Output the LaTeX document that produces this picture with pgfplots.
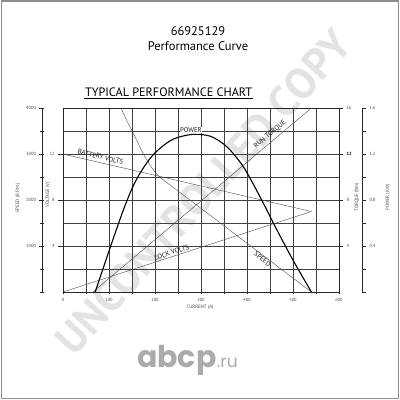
\documentclass[border=0pt]{standalone}
\usepackage{fontspec}
\setmainfont{PT Sans}
\newfontfamily\abcpfont{Poppins}
\usepackage{pgfplots}
\pgfplotsset{compat=1.18}

\pgfplotsset{
  every axis/.append style={
    scale only axis,
    /pgf/number format/assume math mode=true,
    /pgf/number format/1000 sep={},
    tick label style={font=\fontsize{4.5}{5}\selectfont, text=black!70},
    axis line style={black!85, line width=0.5pt},
    tick style={black!85, line width=0.5pt},
  },
  mainbox/.style={at={(63pt,108pt)}, anchor=south west, width=276pt, height=184pt, xmin=0, xmax=600},
  thin curve/.style={black!70, line width=0.4pt},
}

\begin{document}
\begin{tikzpicture}[x=1pt,y=1pt]
\useasboundingbox (0pt,0pt) rectangle (400pt,400pt);
\fill[white] (0pt,0pt) rectangle (400pt,400pt);

% watermark
\node[rotate=48, text=black!11, font=\fontsize{43}{43}\selectfont\bfseries] at (203pt,208pt) {UNCONTROLLED COPY};

% grid, current axis and speed curve
\begin{axis}[mainbox, ymin=0, ymax=4000,
  xtick={0,100,...,600}, minor xtick={50,150,...,550},
  ytick={500,1000,...,3500}, yticklabels={}, ytick style={draw=none},
  xtick pos=left, tick align=outside, major tick length=2.5pt, minor tick length=2.5pt,
  grid=both,
  major grid style={black!75, line width=0.5pt},
  minor grid style={black!75, line width=0.5pt}]
\addplot[thin curve, smooth, tension=0.4] coordinates {
  (126,4000) (139,3720) (153,3450) (166,3180) (178,2940) (194,2690)
  (211,2493) (283,1947) (377,1235) (458,621) (540,0)};
\end{axis}

% voltage
\begin{axis}[mainbox, ymin=0, ymax=16, hide x axis, axis y line*=left,
  ytick={4,8,12}, tick align=outside, major tick length=5pt]
\addplot[thin curve] coordinates {(0,12) (540,7)};
\addplot[thin curve] coordinates {(0,0) (540,7)};
\end{axis}

% torque
\begin{axis}[mainbox, ymin=0, ymax=16, hide x axis, axis y line*=right,
  ytick={4,8,12,16}, yticklabels={4,8,{\textbf{\color{black}12}},16},
  tick align=outside, major tick length=4pt]
\addplot[thin curve] coordinates {(65,0) (540,16)};
\end{axis}

% power curve
\begin{axis}[mainbox, ymin=0, ymax=1.6, hide axis]
\addplot[black, line width=1.1pt, smooth, tension=0.5] coordinates {
  (70,0) (102,0.38) (130,0.70) (150,0.90) (167,1.03) (189,1.16) (211,1.25)
  (240,1.33) (280,1.37) (320,1.355) (356,1.264) (392,1.09) (428,0.83)
  (465,0.54) (501,0.27) (540,0)};
\end{axis}

% power axis
\begin{axis}[at={(352pt,108pt)}, anchor=south west, width=10pt, height=184pt,
  xmin=0, xmax=1, ymin=0, ymax=1.6, hide x axis, axis y line*=right,
  ytick={0.4,0.8,1.2,1.6}, minor ytick={0,0.2,0.6,1.0,1.4},
  tick align=outside, major tick length=4pt, minor tick length=4pt,
  yticklabel style={/pgf/number format/fixed, /pgf/number format/precision=1,
    /pgf/number format/fixed zerofill}]
\addplot[draw=none] coordinates {(0,0)};
\end{axis}

% speed axis
\begin{axis}[at={(42pt,108pt)}, anchor=south west, width=10pt, height=184pt,
  xmin=0, xmax=1, ymin=0, ymax=4000, hide x axis, axis y line*=left,
  ytick={1000,2000,3000,4000}, minor ytick={0,500,1500,2500,3500},
  tick align=center, major tick length=5pt, minor tick length=4pt]
\addplot[draw=none] coordinates {(0,0)};
\end{axis}

% axis labels
\begin{scope}[every node/.style={font=\fontsize{4.8}{5}\selectfont, text=black!70}]
\node[rotate=90] at (18pt,202pt) {SPEED (R.P.M.)};
\node[rotate=90] at (48pt,205pt) {VOLTAGE (V)};
\node[rotate=90] at (357pt,203pt) {TORQUE (Nm)};
\node[rotate=90] at (388pt,202.5pt) {POWER (KW)};
\node at (200pt,93pt) {CURRENT (A)};
\end{scope}

% curve labels
\begin{scope}[every node/.style={font=\fontsize{6.8}{7}\selectfont, text=black!90, inner sep=0.6pt}]
\node[rotate=-13.6] at (100.5pt,243.3pt) {BATTERY VOLTS};
\node[fill=white] at (191pt,269.7pt) {POWER};
\node[rotate=40] at (270pt,265.5pt) {RUN TORQUE};
\node[rotate=19] at (171.7pt,147.5pt) {LOCK VOLTS};
\node[rotate=-39] at (262.5pt,141pt) {SPEED};
\end{scope}

% titles
\node[anchor=base, font=\fontsize{12.5}{14}\selectfont] at (198pt,364pt) {66925129};
\node[anchor=base, font=\fontsize{12.5}{14}\selectfont] at (198pt,349pt) {Performance Curve};
\node[anchor=base, font=\fontsize{12.2}{13}\selectfont] at (168.7pt,303pt) {TYPICAL PERFORMANCE CHART};
\draw[line width=0.6pt] (84pt,301.5pt) -- (253pt,301.5pt);

% site mark
\node[anchor=base west, inner sep=0, text=black!33, font=\abcpfont\fontsize{30}{30}\selectfont\bfseries] (ab) at (137pt,32pt) {abcp};
\node[anchor=base west, inner sep=0, text=black!33, font=\abcpfont\fontsize{17}{17}\selectfont] at (ab.base east) {.ru};

\draw[black!45, line width=1.2pt] (1.2pt,1.2pt) rectangle (398.6pt,399pt);
\end{tikzpicture}
\end{document}
